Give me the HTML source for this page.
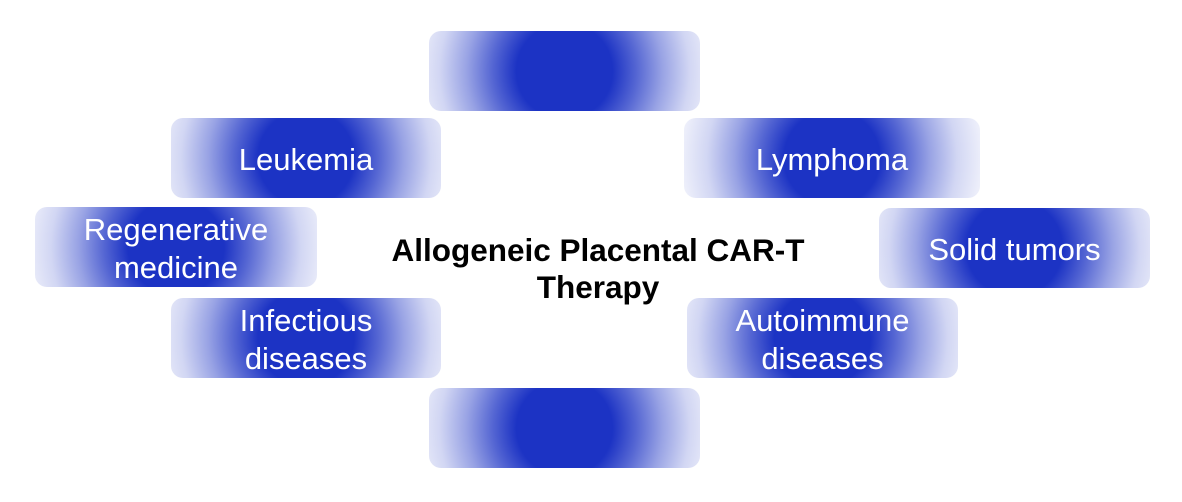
<!DOCTYPE html>
<html><head><meta charset="utf-8"><style>
body{margin:0;width:1182px;height:502px;background:#fff;position:relative;overflow:hidden;font-family:"Liberation Sans",Arial,Helvetica,sans-serif}
.b{position:absolute;height:80px;box-sizing:border-box;padding-top:4px;border-radius:12px;display:flex;align-items:center;justify-content:center;text-align:center;color:#fff;font-size:31px;line-height:38px;
background:radial-gradient(circle at center,#1c33c4 0,#1c33c4 48px,rgba(28,51,196,0.75) 72px,rgba(28,51,196,0.45) 98px,rgba(28,51,196,0.2) 125px,rgba(28,51,196,0.08) 150px,rgba(28,51,196,0.06) 170px)}
.c{position:absolute;left:300px;width:596px;top:232px;text-align:center;font-weight:bold;font-size:31.5px;line-height:37px;color:#000}
</style></head><body>
<div class="b" style="left:429px;top:31px;width:271px"></div>
<div class="b" style="left:171px;top:118px;width:270px">Leukemia</div>
<div class="b" style="left:684px;top:118px;width:296px">Lymphoma</div>
<div class="b" style="left:35px;top:207px;width:282px">Regenerative<br>medicine</div>
<div class="b" style="left:879px;top:208px;width:271px">Solid tumors</div>
<div class="b" style="left:171px;top:298px;width:270px">Infectious<br>diseases</div>
<div class="b" style="left:687px;top:298px;width:271px">Autoimmune<br>diseases</div>
<div class="b" style="left:429px;top:388px;width:271px"></div>
<div class="c">Allogeneic Placental CAR-T<br>Therapy</div>
</body></html>
